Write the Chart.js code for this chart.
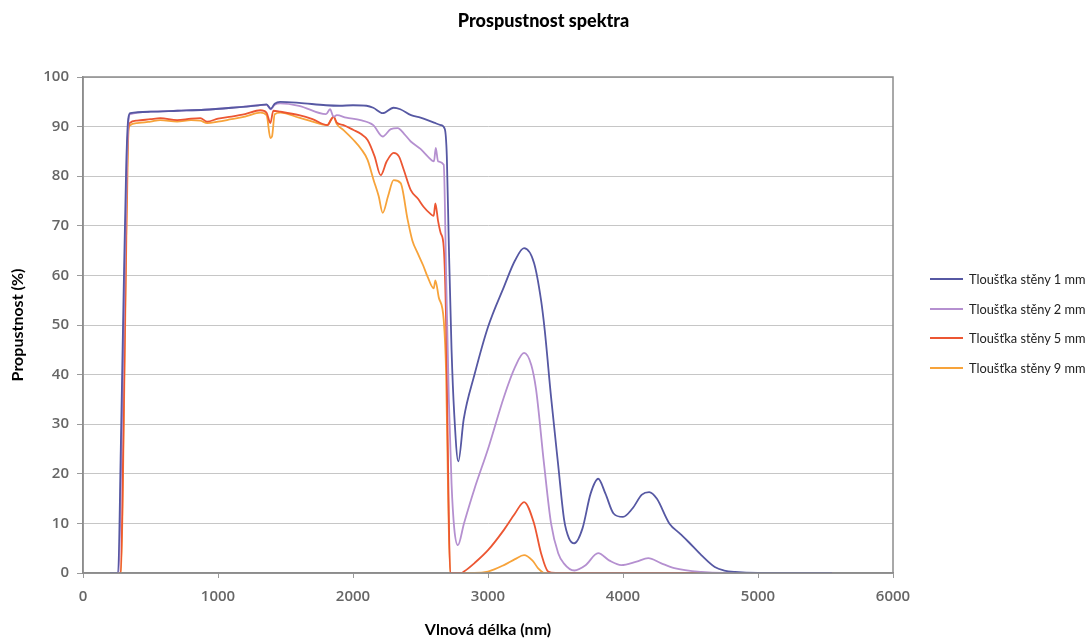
<!DOCTYPE html>
<html lang="cs">
<head>
<meta charset="utf-8">
<title>Prospustnost spektra</title>
<script src="https://cdn.jsdelivr.net/npm/chart.js@4.4.1/dist/chart.umd.min.js"></script>
<style>
  html, body { margin: 0; padding: 0; background: #fff; }
  #wrap { position: relative; width: 1091px; height: 639px; overflow: hidden; }
  #chart { position: absolute; left: 0; top: 0; }
  #title {
    position: absolute; left: 0; width: 1087px; top: 9px;
    text-align: center; font: 900 18px Lato, sans-serif; color: #000;
  }
  #legend { position: absolute; left: 930px; top: 264px; font: 12.8px Lato, sans-serif; color: #222; }
  #legend .item { display: flex; align-items: center; height: 29.7px; }
  #legend .swatch { width: 33px; height: 2px; margin-right: 6px; }
</style>
</head>
<body>
<div id="wrap">
  <canvas id="chart" width="1091" height="639"></canvas>
  <div id="title">Prospustnost spektra</div>
  <div id="legend"></div>
</div>
<script>
// wavelengths (nm) and transmittance (%)
const wl1 = [200, 260, 280, 300, 320, 335, 350, 500, 700, 900, 1100, 1300, 1360, 1390, 1420, 1460, 1600, 1800, 1900, 2000, 2100, 2150, 2220, 2300, 2350, 2430, 2500, 2600, 2650, 2680, 2695, 2710, 2730, 2750, 2780, 2820, 2900, 3000, 3118, 3200, 3267, 3341, 3393, 3420, 3467, 3519, 3564, 3600, 3640, 3700, 3760, 3816, 3870, 3930, 4000, 4070, 4140, 4194, 4250, 4343, 4420, 4484, 4580, 4680, 4750, 4830, 5000, 5200, 5550];
const tr1 = [0, 0, 25, 55, 82, 91.5, 92.7, 93, 93.2, 93.4, 93.8, 94.3, 94.5, 93.6, 94.6, 95, 94.8, 94.3, 94.2, 94.3, 94.2, 93.8, 92.7, 93.8, 93.5, 92.3, 91.8, 90.8, 90.3, 89.5, 84, 66, 45, 32, 22.5, 31, 40, 49.6, 57.7, 63, 65.5, 62.5, 55, 49, 35.5, 22, 10.7, 7, 6, 9, 16, 19, 16, 12, 11.3, 13, 15.8, 16.3, 15, 10, 8, 6.3, 3.6, 1.2, 0.5, 0.2, 0, 0, 0];

const wl2 = [200, 265, 285, 305, 325, 338, 350, 500, 700, 900, 1100, 1300, 1360, 1390, 1420, 1460, 1600, 1800, 1830, 1856, 1880, 1950, 2056, 2150, 2220, 2280, 2331, 2380, 2428, 2500, 2553, 2600, 2613, 2630, 2672, 2690, 2710, 2730, 2750, 2777, 2822, 2900, 3000, 3118, 3200, 3267, 3320, 3356, 3415, 3467, 3520, 3560, 3640, 3720, 3816, 3900, 3987, 4100, 4187, 4280, 4380, 4580, 4750, 5550];
const tr2 = [0, 0, 25, 55, 82, 91.5, 92.5, 93, 93.2, 93.4, 93.8, 94.3, 94.4, 93.5, 94.4, 94.7, 94.2, 92.5, 93.5, 92, 92.3, 91.8, 91.3, 90.3, 88, 89.5, 89.7, 88.5, 87, 85.5, 84, 83, 85.7, 83, 82.3, 60, 35, 18, 9, 5.6, 10, 17, 25, 35.5, 41.5, 44.4, 42, 37, 22, 10, 4, 2, 0.5, 1.5, 4, 2.5, 1.6, 2.3, 3, 2, 1, 0.2, 0, 0];

const wl5 = [200, 280, 300, 318, 332, 345, 400, 500, 572, 697, 800, 869, 920, 1000, 1100, 1200, 1314, 1360, 1388, 1410, 1462, 1600, 1700, 1810, 1840, 1856, 1880, 1930, 2004, 2060, 2108, 2160, 2205, 2250, 2301, 2340, 2376, 2428, 2480, 2524, 2570, 2598, 2610, 2630, 2650, 2672, 2690, 2705, 2720, 2800, 2822, 2900, 3000, 3118, 3200, 3267, 3341, 3393, 3445, 3500, 5550];
const tr5 = [0, 0, 30, 65, 88, 90.7, 91.2, 91.5, 91.7, 91.3, 91.6, 91.7, 91, 91.6, 92, 92.5, 93.3, 92.8, 90.7, 93.2, 93, 92.3, 91.5, 90.3, 91.5, 92, 90.8, 90.3, 89.3, 88.5, 87.3, 84, 80.2, 83, 84.7, 84, 81.3, 77.2, 75.5, 73.8, 72.5, 72, 74.5, 71, 68.5, 65.7, 50, 20, 0, 0, 0.3, 2, 4.6, 8.7, 12, 14.3, 10, 4, 0.3, 0, 0];

const wl9 = [200, 282, 302, 320, 334, 345, 400, 500, 572, 697, 800, 869, 920, 1000, 1100, 1200, 1314, 1360, 1388, 1400, 1420, 1462, 1600, 1700, 1810, 1840, 1856, 1880, 1930, 2004, 2060, 2108, 2153, 2190, 2220, 2260, 2301, 2353, 2405, 2440, 2479, 2520, 2553, 2598, 2610, 2635, 2672, 2690, 2705, 2720, 2900, 3000, 3118, 3200, 3267, 3330, 3370, 3420, 5550];
const tr9 = [0, 0, 30, 65, 87, 90.2, 90.7, 91, 91.3, 91, 91.3, 91.2, 90.7, 91, 91.5, 92, 92.8, 92.3, 87.7, 88, 92.5, 92.8, 91.8, 91, 90.3, 91.5, 92, 90.5, 89.3, 87.3, 85.5, 83.3, 79.2, 76, 72.6, 76, 79.2, 78.6, 71.2, 67, 64.5, 62, 59.7, 57.4, 59, 55.6, 51, 40, 15, 0, 0, 0.3, 1.6, 2.8, 3.6, 2.5, 1, 0, 0];

const seriesLabels = ['Tloušťka stěny 1 mm', 'Tloušťka stěny 2 mm', 'Tloušťka stěny 5 mm', 'Tloušťka stěny 9 mm'];
const seriesColors = ['#5658a3', '#b590d0', '#ec5632', '#f7a33a'];
const xTicks = [0, 1000, 2000, 3000, 4000, 5000, 6000];

const zip = (xs, ys) => xs.map((x, i) => ({ x, y: ys[i] }));
const seriesData = [zip(wl1, tr1), zip(wl2, tr2), zip(wl5, tr5), zip(wl9, tr9)];

// frame around the plot area
const framePlugin = {
  id: 'frame',
  afterDraw(chart) {
    const { ctx, chartArea: a } = chart;
    ctx.save();
    ctx.strokeStyle = '#8c8c8c';
    ctx.lineWidth = 1.5;
    ctx.strokeRect(a.left, a.top, a.right - a.left, a.bottom - a.top);
    ctx.restore();
  },
};

const tickFont = { family: "'Open Sans', sans-serif", size: 15, weight: '600' };
const titleFont = { family: 'Lato, sans-serif', size: 16, weight: 'bold' };

new Chart(document.getElementById('chart'), {
  type: 'line',
  data: {
    datasets: seriesData.map((d, i) => ({
      label: seriesLabels[i],
      data: d,
      borderColor: seriesColors[i],
      borderWidth: 1.8,
      pointRadius: 0,
      cubicInterpolationMode: 'monotone',
      order: i,
    })),
  },
  options: {
    responsive: false,
    animation: false,
    layout: { padding: { top: 77, right: 198, bottom: 0, left: 0 } },
    scales: {
      x: {
        type: 'linear',
        min: 0,
        max: 6000,
        afterBuildTicks: (s) => { s.ticks = xTicks.map((v) => ({ value: v })); },
        afterFit: (s) => { s.height = 66; },
        ticks: { color: '#666', font: tickFont, padding: 10, maxRotation: 0, callback: (v) => String(v) },
        grid: { drawOnChartArea: false, tickLength: 5, color: '#9a9a9a' },
        border: { color: '#8c8c8c', width: 1.5 },
        title: { display: true, text: 'Vlnová délka (nm)', color: '#000', font: titleFont, padding: { top: 0, bottom: 0 } },
      },
      y: {
        min: 0,
        max: 100,
        afterFit: (s) => { s.width = 83; },
        ticks: { stepSize: 10, color: '#666', font: tickFont, padding: 8 },
        grid: { color: '#c6c6c6', tickLength: 6, tickColor: '#9a9a9a' },
        border: { color: '#8c8c8c', width: 1.5 },
        title: { display: true, text: 'Propustnost (%)', color: '#000', font: titleFont, padding: { top: 8, bottom: 0 } },
      },
    },
    plugins: {
      legend: { display: false },
      title: { display: false },
      tooltip: { enabled: false },
    },
  },
  plugins: [framePlugin],
});

// legend as plain html, to the right of the plot
const legendEl = document.getElementById('legend');
seriesLabels.forEach((label, i) => {
  const item = document.createElement('div');
  item.className = 'item';
  const sw = document.createElement('span');
  sw.className = 'swatch';
  sw.style.background = seriesColors[i];
  const txt = document.createElement('span');
  txt.textContent = label;
  item.appendChild(sw);
  item.appendChild(txt);
  legendEl.appendChild(item);
});
</script>
</body>
</html>
